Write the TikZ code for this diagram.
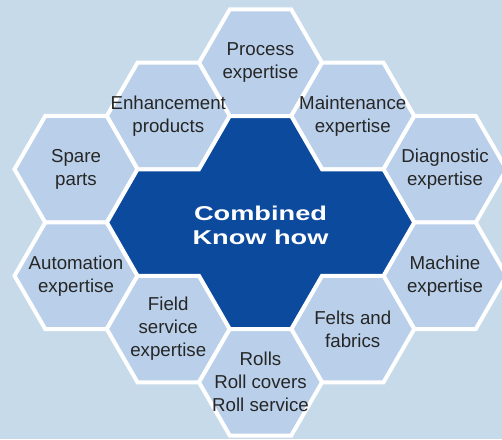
\documentclass[tikz,border=0pt]{standalone}
\usepackage{fontspec}
\setmainfont{Liberation Sans}
\newfontfamily\widebold[FakeStretch=1.36]{Liberation Sans Bold}
\definecolor{bgblue}{HTML}{C7DAEA}
\definecolor{cellblue}{HTML}{BAD0EA}
\definecolor{darkblue}{HTML}{0C4A9E}
\definecolor{txtgray}{HTML}{262626}
\newcommand\hexcell[1]{%
  \draw[cell] (#1) +(0:61.5) -- +(60:61.5) -- +(120:61.5) -- +(180:61.5) -- +(240:61.5) -- +(300:61.5) -- cycle;}
\begin{document}
\begin{tikzpicture}[x=1pt,y=-1pt,
  cell/.style={fill=cellblue,draw=white,line width=4pt,line join=miter},
  core/.style={fill=darkblue,draw=white,line width=4pt,line join=miter},
  lbl/.style={align=center,text=txtgray,inner sep=0pt,font=\fontsize{18.7pt}{23pt}\selectfont},
  corelbl/.style={align=center,text=white,inner sep=0pt,font=\widebold\fontsize{20pt}{24pt}\selectfont}]
\useasboundingbox (0,0) rectangle (502,439);
\fill[bgblue] (0,0) rectangle (502,439);
% cell centres
\coordinate (proc) at (260.5,62.75);
\coordinate (enh)  at (168.25,116);
\coordinate (mnt)  at (352.75,116);
\coordinate (spare) at (76,169.25);
\coordinate (diag) at (445,169.25);
\coordinate (auto) at (76,275.75);
\coordinate (mach) at (445,275.75);
\coordinate (field) at (168.25,329);
\coordinate (felt) at (352.75,329);
\coordinate (rolls) at (260.5,382.25);
\coordinate (ctr) at (260.5,222.5);
% outer ring of cells
\hexcell{proc}
\hexcell{enh}
\hexcell{mnt}
\hexcell{spare}
\hexcell{diag}
\hexcell{auto}
\hexcell{mach}
\hexcell{field}
\hexcell{felt}
\hexcell{rolls}
% central merged region
\draw[core] (229.75,116) -- (291.25,116) -- (322,169.25) -- (383.5,169.25) -- (414.25,222.5)
  -- (383.5,275.75) -- (322,275.75) -- (291.25,329) -- (229.75,329) -- (199,275.75)
  -- (137.5,275.75) -- (107,222.5) -- (137.5,169.25) -- (199,169.25) -- cycle;
% labels
\node[lbl] (proc-t) at (proc) {Process\\expertise};
\node[lbl] (enh-t) at (enh) {Enhancement\\products};
\node[lbl] (mnt-t) at (mnt) {Maintenance\\expertise};
\node[lbl] (spare-t) at (spare) {Spare\\parts};
\node[lbl] (diag-t) at (diag) {Diagnostic\\expertise};
\node[lbl] (auto-t) at (auto) {Automation\\expertise};
\node[lbl] (mach-t) at (mach) {Machine\\expertise};
\node[lbl] (field-t) at (field) {Field\\service\\expertise};
\node[lbl] (felt-t) at (felt) {Felts and\\fabrics};
\node[lbl] (rolls-t) at (rolls) {Rolls\\Roll covers\\Roll service};
\node[corelbl] (ctr-t) at ([yshift=-3pt]ctr) {Combined\\Know how};
\end{tikzpicture}
\end{document}
